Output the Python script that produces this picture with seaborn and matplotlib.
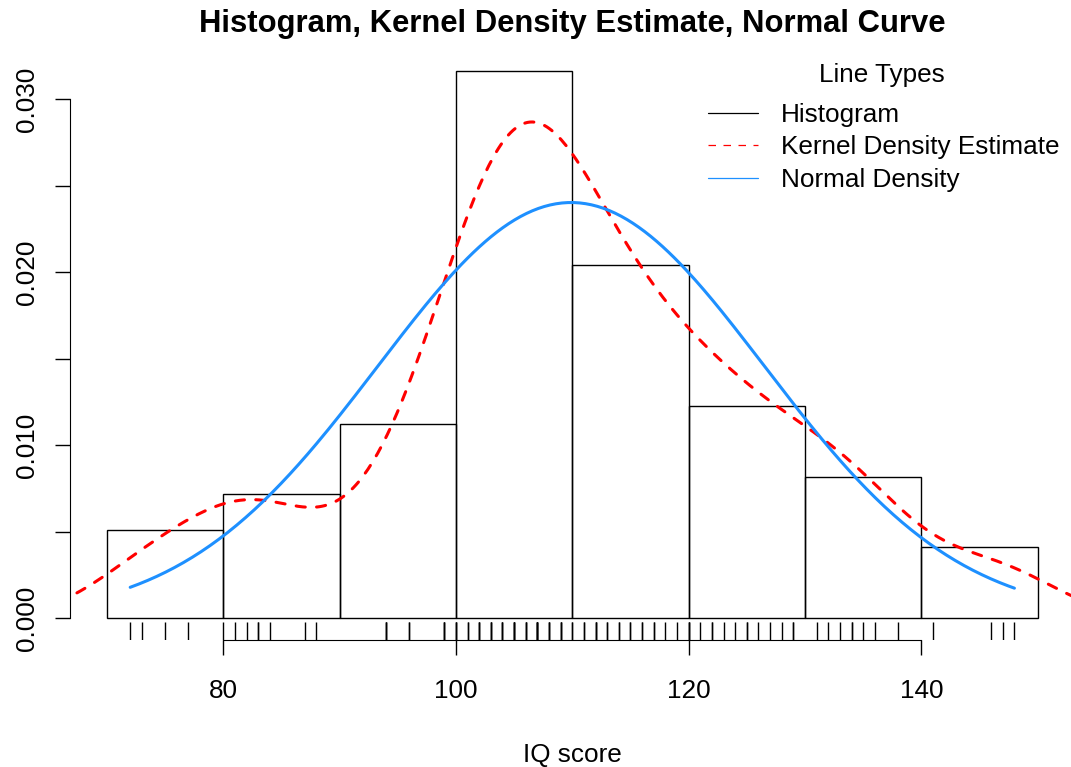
import numpy as np
import seaborn as sns
import matplotlib
matplotlib.use("Agg")
import matplotlib.pyplot as plt
from matplotlib.lines import Line2D

iq_values = [72, 73, 75, 77, 80, 81, 82, 83, 84, 87, 88, 94, 96, 99, 100,
             101, 102, 103, 104, 105, 106, 107, 108, 109, 110,
             111, 112, 113, 114, 115, 116, 117, 118, 119, 120,
             121, 122, 123, 124, 125, 126, 127, 128, 129,
             131, 132, 133, 134, 135, 136, 138, 141, 146, 147, 148]
iq_counts = [1, 1, 1, 1, 1, 1, 1, 2, 1, 1, 1, 3, 2, 3, 3,
             2, 3, 3, 3, 4, 3, 5, 3, 3, 2,
             2, 3, 2, 2, 2, 2, 2, 1, 1, 3,
             1, 2, 1, 1, 2, 1, 1, 1, 2,
             1, 1, 1, 2, 1, 1, 1, 1, 1, 1, 1]
bin_edges = [70, 80, 90, 100, 110, 120, 130, 140, 150]
legend_labels = ["Histogram", "Kernel Density Estimate", "Normal Density"]

iq = np.repeat(iq_values, iq_counts).astype(float)

# R's bw.nrd0 bandwidth
sd = iq.std(ddof=1)
q1, q3 = np.percentile(iq, [25, 75])
bw = 0.9 * min(sd, (q3 - q1) / 1.34) * len(iq) ** -0.2

sns.set_style("white", rc={"axes.edgecolor": "black", "text.color": "black",
                           "xtick.color": "black", "ytick.color": "black", "axes.labelcolor": "black"})
plt.rcParams["font.family"] = ["Liberation Sans", "DejaVu Sans"]
fs = 18.8

fig = plt.figure(figsize=(10.71, 7.67), dpi=100)
ax = fig.add_axes([69.7 / 1071, (767 - 639.9) / 767, 1005.2 / 1071, 590.8 / 767])

# right-closed bins like R's hist()
sns.histplot(x=iq, bins=np.array(bin_edges) + 1e-6, stat="density", fill=False,
             color="black", linewidth=1.0, ax=ax)
sns.kdeplot(x=iq, bw_method=bw / sd, gridsize=512, color="red", linewidth=2.2,
            linestyle=(0, (3, 3.7)), dash_capstyle="round", ax=ax)
xs = np.linspace(iq.min(), iq.max(), 300)
m = iq.mean()
sns.lineplot(x=xs, y=np.exp(-0.5 * ((xs - m) / sd) ** 2) / (sd * np.sqrt(2 * np.pi)),
             color="dodgerblue", linewidth=2.2, ax=ax)
sns.rugplot(x=iq, height=0.03, color="black", linewidth=1.0, ax=ax)

ax.set_xlim(66.8, 153.2)
ax.set_ylim(-0.001265, 0.032898)
sns.despine(ax=ax)
ax.spines["left"].set_bounds(0, 0.03)
ax.spines["bottom"].set_bounds(80, 140)
ax.set_xticks([80, 100, 120, 140])
ax.set_yticks(np.arange(0, 0.0301, 0.005))
ax.set_yticklabels(["0.000", "", "0.010", "", "0.020", "", "0.030"])
ax.tick_params(direction="out", length=10.8, width=1.0, labelsize=fs, left=True, bottom=True)
ax.tick_params(axis="x", pad=17.5)
ax.tick_params(axis="y", pad=11, labelrotation=90)
for lbl in ax.get_yticklabels():
    lbl.set_va("center")
ax.set_xlabel("IQ score", fontsize=fs)
ax.xaxis.set_label_coords(0.5, (639.9 - 755) / 590.8)
ax.xaxis.label.set_va("center")
ax.set_ylabel("")
ax.set_title("Histogram, Kernel Density Estimate, Normal Curve", fontsize=22.3, fontweight="bold",
             y=(639.9 - 32) / 590.8, va="center")

handles = [Line2D([], [], color="black", lw=0.9),
           Line2D([], [], color="red", lw=0.9, linestyle=(0, (6, 6))),
           Line2D([], [], color="dodgerblue", lw=0.9)]
ax.legend(handles, legend_labels, loc="upper left",
          bbox_to_anchor=(708 / 1071, 1 - 103 / 767), bbox_transform=fig.transFigure, frameon=False,
          borderpad=0, borderaxespad=0, handlelength=1.9, handletextpad=0.9, labelspacing=0.32, fontsize=fs)
fig.text(881.5 / 1071, 1 - 75 / 767, "Line Types", ha="center", va="center", fontsize=fs)

fig.savefig("out.png", dpi=100)
